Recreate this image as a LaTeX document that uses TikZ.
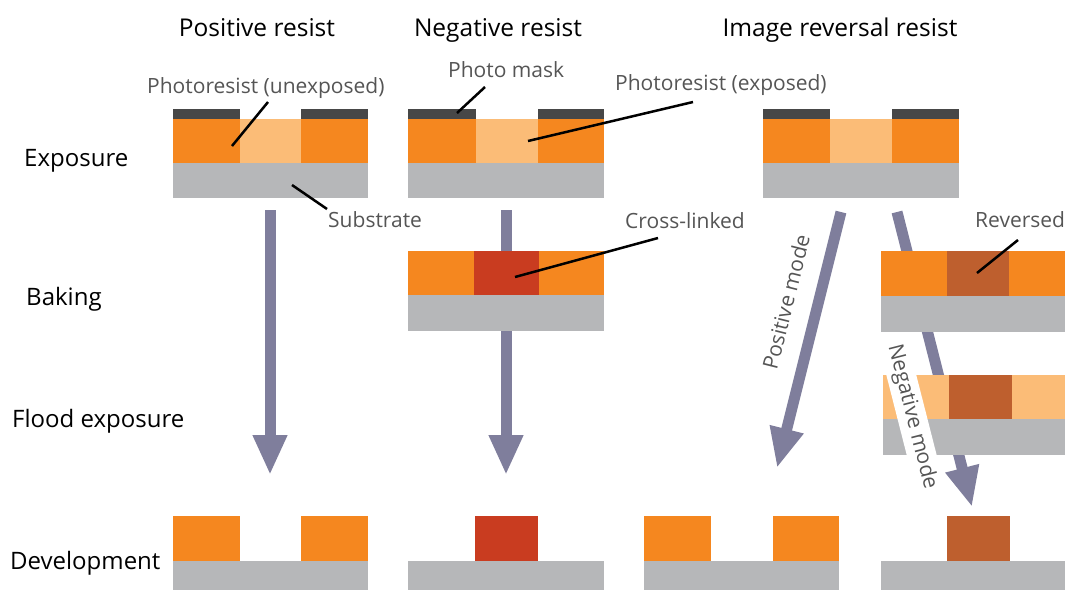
\documentclass[tikz,border=0pt]{standalone}
\usepackage{fontspec}
\setmainfont{Open Sans}
\usetikzlibrary{arrows.meta}
\definecolor{orng}{HTML}{F5871F}
\definecolor{lorng}{HTML}{FBBC77}
\definecolor{subst}{HTML}{B6B7B9}
\definecolor{maskc}{HTML}{474747}
\definecolor{xlink}{HTML}{C93C20}
\definecolor{revc}{HTML}{BE5F2E}
\definecolor{arrc}{HTML}{7F7E9C}
\definecolor{annc}{HTML}{555555}
\begin{document}
\begin{tikzpicture}[x=1pt,y=-1pt,
  title/.style={font=\fontsize{24.5}{28}\selectfont, text=black, inner sep=0pt, anchor=base},
  rowlab/.style={font=\fontsize{24}{28}\selectfont, text=black, inner sep=0pt, anchor=base west},
  ann/.style={font=\fontsize{21}{25}\selectfont, text=annc, inner sep=0pt, anchor=base west},
  modelab/.style={font=\fontsize{21}{25}\selectfont, text=annc, inner sep=4pt},
  leader/.style={line width=2.5pt, black},
  flow/.style={line width=11pt, arrc, -{Triangle[width=32pt,length=40pt]}},
]
\useasboundingbox (0,0) rectangle (1065,590);

% flow arrows (behind the stacks)
\coordinate (a1s) at (270,210); \coordinate (a1e) at (270,475);
\coordinate (a2s) at (506,210); \coordinate (a2e) at (506,475);
\coordinate (aps) at (841,212); \coordinate (ape) at (777,468);
\coordinate (ans) at (897,212); \coordinate (ane) at (972,507);
\draw[flow] (a1s) -- (a1e);
\draw[flow] (a2s) -- (a2e);
\draw[flow] (aps) -- (ape);
\draw[flow] (ans) -- (ane);

% ---- Exposure row ----
% column 1
\fill[orng] (173,119) rectangle (368,163);
\fill[lorng] (240,119) rectangle (301,163);
\fill[subst] (173,163) rectangle (368,198);
\fill[maskc] (173,109) rectangle (240,119);
\fill[maskc] (301,109) rectangle (368,119);
% column 2
\fill[orng] (408,119) rectangle (604,163);
\fill[lorng] (476,119) rectangle (538,163);
\fill[subst] (408,163) rectangle (604,198);
\fill[maskc] (408,109) rectangle (476,119);
\fill[maskc] (538,109) rectangle (604,119);
% column 3
\fill[orng] (763,119) rectangle (959,163);
\fill[lorng] (830,119) rectangle (892,163);
\fill[subst] (763,163) rectangle (959,198);
\fill[maskc] (763,109) rectangle (830,119);
\fill[maskc] (892,109) rectangle (959,119);

% ---- Baking row ----
\fill[orng] (408,251) rectangle (604,295);
\fill[xlink] (474,251) rectangle (539,295);
\fill[subst] (408,295) rectangle (604,331);
\fill[orng] (881,251) rectangle (1065,296);
\fill[revc] (947,251) rectangle (1009,296);
\fill[subst] (881,296) rectangle (1065,332);

% ---- Flood exposure row ----
\fill[lorng] (883,375) rectangle (1065,419);
\fill[revc] (949,375) rectangle (1012,419);
\fill[subst] (883,419) rectangle (1065,455);

% ---- Development row ----
\fill[orng] (173,516) rectangle (240,561);
\fill[orng] (301,516) rectangle (368,561);
\fill[subst] (173,561) rectangle (368,590);
\fill[xlink] (475,516) rectangle (538,561);
\fill[subst] (408,561) rectangle (604,590);
\fill[orng] (644,516) rectangle (711,561);
\fill[orng] (773,516) rectangle (839,561);
\fill[subst] (644,561) rectangle (839,590);
\fill[revc] (947,516) rectangle (1010,561);
\fill[subst] (881,561) rectangle (1065,590);

% ---- titles ----
\node[title] (tpos) at (257,36) {Positive resist};
\node[title] (tneg) at (498,36) {Negative resist};
\node[title] (timg) at (840,36) {Image reversal resist};

% ---- row labels ----
\node[rowlab] (rexp) at (24,166) {Exposure};
\node[rowlab] (rbak) at (26,305) {Baking};
\node[rowlab] (rfld) at (12,427) {Flood exposure};
\node[rowlab] (rdev) at (10,569) {Development};

% ---- annotations ----
\node[ann] (unx) at (147,93) {Photoresist (unexposed)};
\node[ann] (sub) at (328,227) {Substrate};
\node[ann] (pm) at (448,77) {Photo mask};
\node[ann] (exd) at (615,90) {Photoresist (exposed)};
\node[ann] (xl) at (625,228) {Cross-linked};
\node[ann] (rev) at (975,227) {Reversed};

\coordinate (l1a) at (268,102); \coordinate (l1b) at (232,146);
\coordinate (l2a) at (292,185); \coordinate (l2b) at (327,209);
\coordinate (l3a) at (485,87);  \coordinate (l3b) at (457,113);
\coordinate (l4a) at (693,102); \coordinate (l4b) at (528,141);
\coordinate (l5a) at (658,238); \coordinate (l5b) at (515,277);
\coordinate (l6a) at (1018,240); \coordinate (l6b) at (977,273);
\draw[leader] (l1a) -- (l1b);
\draw[leader] (l2a) -- (l2b);
\draw[leader] (l3a) -- (l3b);
\draw[leader] (l4a) -- (l4b);
\draw[leader] (l5a) -- (l5b);
\draw[leader] (l6a) -- (l6b);

% ---- mode labels ----
\node[modelab, rotate=76] (pmode) at (786,302) {Positive mode};
\node[modelab, fill=white, rotate=-75.7] (nmode) at (912,417) {Negative mode};
\end{tikzpicture}
\end{document}
